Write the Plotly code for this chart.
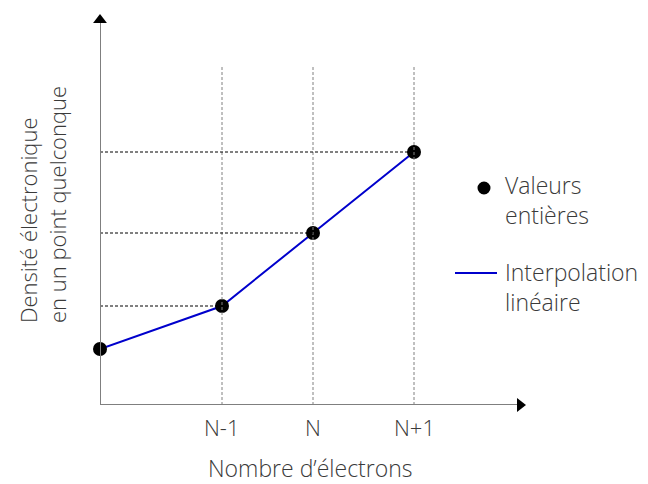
import plotly.graph_objects as go

# Data (positions, in axis units)
x_pos = [0, 122, 213, 314]          # electron count positions (origin, N-1, N, N+1)
density = [56, 99, 172, 253]         # electron density at those positions
tick_labels = ["N-1", "N", "N+1"]
tick_pos = x_pos[1:]

X_MAX, Y_MAX = 425, 390
VLINE_TOP = 340

FONT = "Open Sans"
TXT = "#3a3a3a"
AX = "#7f7f7f"


def fnt(size):
    return dict(family=FONT, size=size, color=TXT, weight=300)


fig = go.Figure()

# guide lines
for xv, yv in zip(tick_pos, density[1:]):
    fig.add_shape(type="line", x0=xv, x1=xv, y0=0, y1=VLINE_TOP, xref="x", yref="y",
                  line=dict(color="#808080", width=1, dash="3px,2px"))
    fig.add_shape(type="line", x0=0, x1=xv, y0=yv, y1=yv, xref="x", yref="y",
                  line=dict(color="black", width=1, dash="3px,2px"))

# axes with arrows
fig.add_shape(type="line", x0=0, x1=0, y0=0, y1=Y_MAX - 8, xref="x", yref="y",
              line=dict(color=AX, width=2))
fig.add_shape(type="line", x0=0, x1=X_MAX - 8, y0=0, y1=0, xref="x", yref="y",
              line=dict(color=AX, width=2))
fig.add_trace(go.Scatter(x=[0], y=[Y_MAX - 5], mode="markers", cliponaxis=False,
                         marker=dict(symbol="triangle-up", size=12, color="black"),
                         showlegend=False, hoverinfo="skip"))
fig.add_trace(go.Scatter(x=[X_MAX - 5], y=[0], mode="markers", cliponaxis=False,
                         marker=dict(symbol="triangle-right", size=12, color="black"),
                         showlegend=False, hoverinfo="skip"))

# data
fig.add_trace(go.Scatter(x=x_pos, y=density, mode="lines", cliponaxis=False,
                         line=dict(color="#0000CC", width=2), showlegend=False))
fig.add_trace(go.Scatter(x=x_pos, y=density, mode="markers", cliponaxis=False,
                         marker=dict(color="black", size=14), showlegend=False))

# tick labels
for xv, lab in zip(tick_pos, tick_labels):
    fig.add_annotation(x=xv, y=0, xref="x", yref="y", yshift=-22, text=lab,
                       xanchor="center", yanchor="middle",
                       showarrow=False, font=fnt(22))


def px(xp):
    return (xp - 100) / 425


def py(yp):
    return (405 - yp) / 390


fig.add_annotation(x=px(310), y=py(468), xref="paper", yref="paper",
                   xanchor="center", yanchor="middle",
                   text="Nombre d’électrons", showarrow=False, font=fnt(23))
fig.add_annotation(x=px(42), y=py(205), xref="paper", yref="paper", textangle=-90,
                   xanchor="center", yanchor="middle", align="left",
                   text="Densité électronique<br>en un point quelconque", showarrow=False,
                   font=fnt(22))

# legend
fig.add_shape(type="circle", xref="paper", yref="paper",
              x0=px(477.5), x1=px(490.5), y0=py(194.5), y1=py(181.5),
              fillcolor="black", line=dict(width=0))
fig.add_shape(type="line", xref="paper", yref="paper",
              x0=px(455), x1=px(497), y0=py(273), y1=py(273),
              line=dict(color="#0000CC", width=2))
fig.add_annotation(x=px(503), y=py(200), xref="paper", yref="paper",
                   xanchor="left", yanchor="middle",
                   text="Valeurs<br>entières", showarrow=False, align="left", font=fnt(23))
fig.add_annotation(x=px(503), y=py(287), xref="paper", yref="paper",
                   xanchor="left", yanchor="middle",
                   text="Interpolation<br>linéaire", showarrow=False, align="left", font=fnt(23))

fig.update_xaxes(range=[0, X_MAX], visible=False, fixedrange=True)
fig.update_yaxes(range=[0, Y_MAX], visible=False, fixedrange=True)
fig.update_layout(width=648, height=484, margin=dict(l=92, r=131, t=7, b=87),
                  plot_bgcolor="white", paper_bgcolor="white", showlegend=False)

fig.write_html("out.html")
